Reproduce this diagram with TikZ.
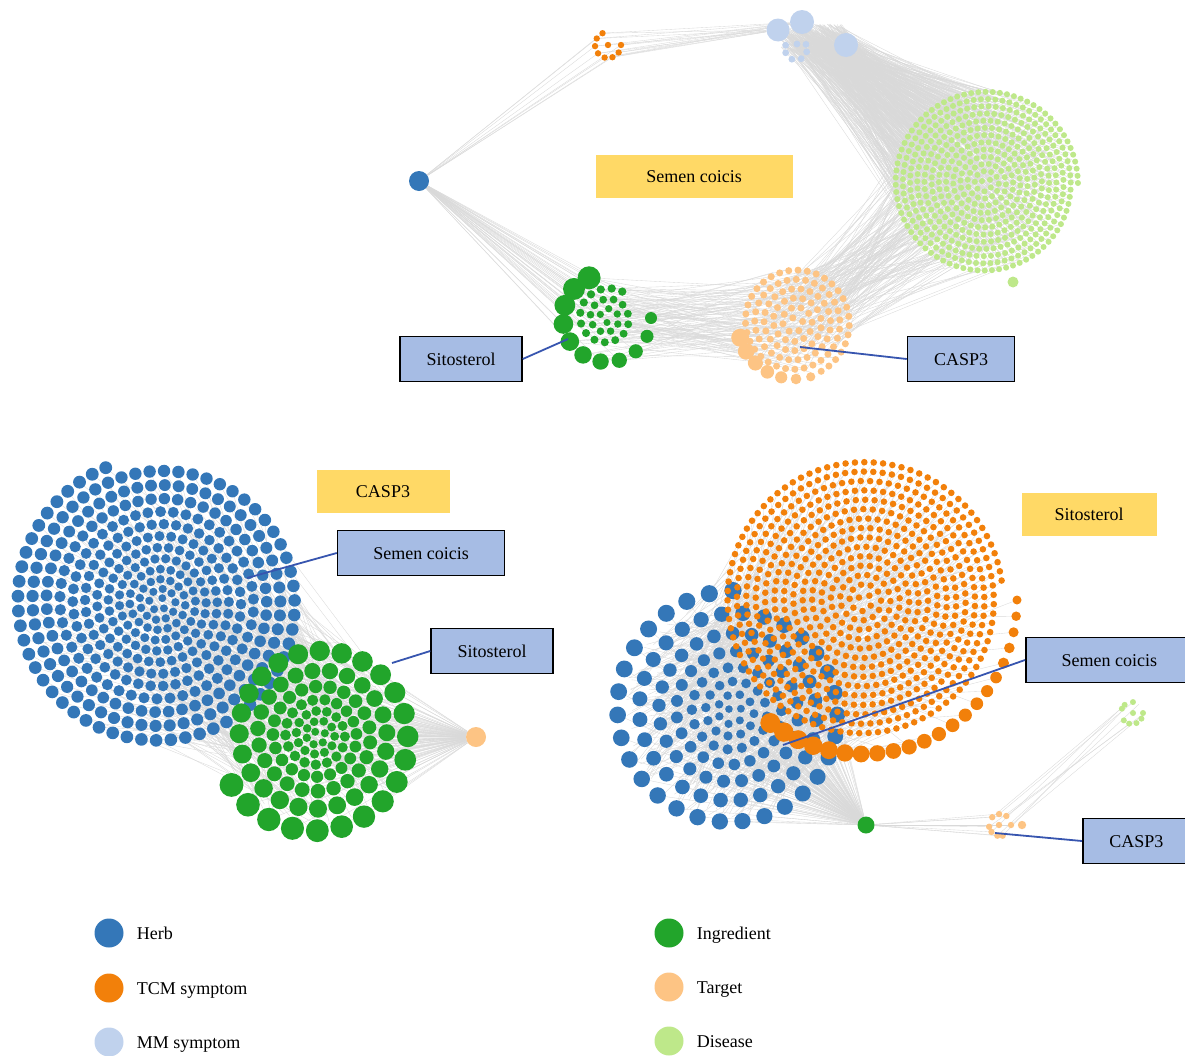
\documentclass[tikz,border=0pt]{standalone}
\usepackage{fontspec}
\setmainfont{Liberation Serif}
\usepackage{xcolor}
\definecolor{HerbBlue}{RGB}{52,119,184}
\definecolor{TcmOrange}{RGB}{242,128,10}
\definecolor{MmBlue}{RGB}{192,210,237}
\definecolor{IngGreen}{RGB}{34,165,43}
\definecolor{TargetOrange}{RGB}{253,196,132}
\definecolor{DiseaseGreen}{RGB}{190,232,138}
\definecolor{TagYellow}{RGB}{255,217,102}
\definecolor{TagBlue}{RGB}{166,188,228}
\definecolor{PinBlue}{RGB}{55,85,175}
\usepackage{tikz}
\usetikzlibrary{positioning}

\pgfdeclarelayer{links}
\pgfsetlayers{links,main}

% Recorrido de la espiral / Spiral walk
% #1,#2 centre, #3 radius, #4,#5 spacing in/out, #6 max, #7 code per node
\def\spGrow{1}
\def\spDir{1}
\def\spOff{0}
\def\spLinks{}
\newcommand{\spWalk}[7]{%
  \pgfmathsetmacro\spR{0.5*#4}\xdef\spR{\spR}\xdef\spA{0}%
  \foreach \k in {1,...,#6}{%
    \ifdim\spR pt<#3pt
      \pgfmathsetmacro\spD{#4+(#5-#4)*(\spR/#3)^\spGrow}%
      \pgfmathsetmacro\spX{#1+\spR*cos(\spOff+(\spDir)*\spA)}%
      \pgfmathsetmacro\spY{#2+\spR*sin(\spOff+(\spDir)*\spA)}%
      #7%
      \pgfmathsetmacro\spAn{\spA+\spD/\spR*57.2958}%
      \pgfmathsetmacro\spRn{\spR+\spD*\spD/(6.2832*\spR)}%
      \xdef\spA{\spAn}\xdef\spR{\spRn}%
    \fi}%
}
% Espiral de nodos / Node spiral
% #6 end angle, #7 size, #8 colour, #9 max
\newcommand{\netspiral}[9]{%
  \def\spOff{0}\xdef\spEnd{0}%
  \spWalk{#1}{#2}{#3}{#4}{#5}{#9}{\xdef\spEnd{\spA}}%
  \pgfmathsetmacro\spOff{#6-(\spDir)*\spEnd}%
  \begin{pgfonlayer}{links}%
    \spWalk{#1}{#2}{#3}{#4}{#5}{#9}{\spLinks}%
  \end{pgfonlayer}%
  \spWalk{#1}{#2}{#3}{#4}{#5}{#9}{\fill[#8] (\spX,\spY) circle ({#7*\spD});}%
}
% Arco de nodos / Node arc
\newcommand{\netarc}[9]{%
  \begin{pgfonlayer}{links}%
  \foreach \k in {0,...,#6}{%
    \pgfmathsetmacro\spX{#1+#3*cos(#4+(#5-(#4))*\k/#6)}%
    \pgfmathsetmacro\spY{#2+#3*sin(#4+(#5-(#4))*\k/#6)}%
    \spLinks}%
  \end{pgfonlayer}%
  \foreach \k in {0,...,#6}{%
    \pgfmathsetmacro\spT{\k/#6}%
    \pgfmathsetmacro\spX{#1+#3*cos(#4+(#5-(#4))*\spT)}%
    \pgfmathsetmacro\spY{#2+#3*sin(#4+(#5-(#4))*\spT)}%
    \fill[#9] (\spX,\spY) circle ({#7+(#8-#7)*\spT});}%
}

\begin{document}
\begin{tikzpicture}[x=1pt, y=-1pt,
  netnode/.style={circle, inner sep=0pt, minimum size=#1},
  netlink/.style={draw=gray!30, line width=0.35pt},
  tagy/.style={fill=TagYellow, minimum height=43pt, inner sep=0pt, text height=12pt, text depth=0pt, font=\fontsize{18}{21}\selectfont},
  tagb/.style={fill=TagBlue, draw=black, line width=1.5pt, minimum height=45pt, inner sep=0pt, text height=12pt, text depth=0pt, font=\fontsize{18}{21}\selectfont},
  pinline/.style={draw=PinBlue, line width=1.8pt},
  legtext/.style={inner sep=0pt, text height=12pt, text depth=0pt, font=\fontsize{18}{21}\selectfont}]
\useasboundingbox (0,0) rectangle (1185,1055);
\clip (0,0) rectangle (1185,1055);
\pgfmathsetseed{11}

% ---------- Semen coicis ----------
\node[netnode=20pt, fill=HerbBlue] (herbA) at (419,181) {};
\node[netnode=23pt, fill=MmBlue] (mmA1) at (778,30) {};
\node[netnode=24pt, fill=MmBlue] (mmA2) at (802,22) {};
\node[netnode=24pt, fill=MmBlue] (mmA3) at (846,45) {};
% Sintomas MTC / TCM symptoms
\begin{pgfonlayer}{links}
\foreach \a in {0,35,...,245}{
  \pgfmathsetmacro\spX{608+13*cos(\a)}
  \pgfmathsetmacro\spY{45+13*sin(\a)}
  \draw[netlink] (herbA) -- (\spX,\spY);
  \draw[netlink] (\spX,\spY) -- (mmA1);
  \draw[netlink] (\spX,\spY) -- (mmA2);
}
\end{pgfonlayer}
\foreach \a in {0,35,...,245}
  \fill[TcmOrange] ({608+13*cos(\a)},{45+13*sin(\a)}) circle (3.2);
\fill[TcmOrange] (608,45) circle (3.2);
% Sintomas MM / MM symptoms
\foreach \a in {200,160,112,62,15,-25}
  \fill[MmBlue] ({796+11*cos(\a)},{49+11*sin(\a)}) circle (3.4);
\fill[MmBlue] (797,44) circle (3.4);
% Enfermedades / Diseases
\def\spLinks{\pgfmathsetmacro\eX{780+64*rnd}\pgfmathsetmacro\eY{24+26*rnd}%
  \draw[netlink] (\eX,\eY) -- (\spX,\spY);%
  \pgfmathtruncatemacro\eP{rnd<0.3 ? 1 : 0}%
  \ifnum\eP=1 \pgfmathsetmacro\eA{360*rnd}\pgfmathsetmacro\eR{50*sqrt(rnd)}%
    \draw[netlink] ({795+\eR*cos(\eA)},{322+\eR*sin(\eA)}) -- (\spX,\spY);\fi}
\netspiral{985}{183}{93}{7.2}{7.2}{0}{0.42}{DiseaseGreen}{700}
\fill[DiseaseGreen] (1013,282) circle (5.5);
% Dianas / Targets
\def\spLinks{}
\netspiral{795}{322}{56}{9.3}{9.3}{62}{0.38}{TargetOrange}{200}
\netarc{795}{322}{57}{74}{164}{6}{4.6}{9}{TargetOrange}
% Ingredientes / Ingredients
\def\spLinks{\draw[netlink] (herbA) -- (\spX,\spY);%
  \foreach \j in {1,2,3}{\pgfmathsetmacro\eA{360*rnd}\pgfmathsetmacro\eR{55*sqrt(rnd)}%
    \draw[netlink] (\spX,\spY) -- ({795+\eR*cos(\eA)},{322+\eR*sin(\eA)});}}
\netspiral{607}{318}{31}{9}{11}{300}{0.38}{IngGreen}{80}
\netarc{607}{318}{44}{0}{246}{10}{6}{11.5}{IngGreen}
% Etiquetas / Labels
\node[tagy, minimum width=197pt] (herbTagA) at (694,176) {Semen coicis};
\node[tagb, minimum width=122pt] (ingTagA) at (461,359) {Sitosterol};
\coordinate (ingPinA) at (568,339);
\draw[pinline] (ingTagA.east) -- (ingPinA);
\node[tagb, minimum width=107pt] (tarTagA) at (961,359) {CASP3};
\coordinate (tarPinA) at (800,347);
\draw[pinline] (tarTagA.west) -- (tarPinA);

% ---------- CASP3 ----------
\node[netnode=20pt, fill=TargetOrange] (tarB) at (476,737) {};
% Hierbas / Herbs
\def\spLinks{\pgfmathsetmacro\eA{360*rnd}\pgfmathsetmacro\eR{95*sqrt(rnd)}%
  \draw[netlink] (\spX,\spY) -- ({318+\eR*cos(\eA)},{735+\eR*sin(\eA)});}
\netspiral{160}{602}{145}{9}{15}{248}{0.43}{HerbBlue}{700}
% Ingredientes / Ingredients
\def\spGrow{1.5}
\def\spLinks{\draw[netlink] (\spX,\spY) -- (tarB);}
\netspiral{318}{735}{100}{8.5}{26}{150}{0.46}{IngGreen}{400}
\def\spGrow{1}
% Etiquetas / Labels
\node[tagy, minimum width=133pt] (tarTagB) at (383,491) {CASP3};
\node[tagb, minimum width=167pt] (herbTagB) at (421,553) {Semen coicis};
\coordinate (herbPinB) at (247,578);
\draw[pinline] (herbTagB.west) -- (herbPinB);
\node[tagb, minimum width=122pt] (ingTagB) at (492,651) {Sitosterol};
\coordinate (ingPinB) at (392,663);
\draw[pinline] (ingTagB.west) -- (ingPinB);

% ---------- Sitosterol ----------
\node[netnode=17pt, fill=IngGreen] (ingC) at (866,825) {};
% Hierbas / Herbs
\def\spLinks{\draw[netlink] (\spX,\spY) -- (ingC);}
\netspiral{733}{712}{122}{10}{24}{270}{0.36}{HerbBlue}{500}
% Sintomas MTC / TCM symptoms
\def\spLinks{\pgfmathsetmacro\eA{360*rnd}\pgfmathsetmacro\eR{110*sqrt(rnd)}%
  \draw[netlink] (\spX,\spY) -- ({733+\eR*cos(\eA)},{712+\eR*sin(\eA)});}
\netspiral{863}{600}{140}{9.4}{9.4}{352}{0.35}{TcmOrange}{900}
\netarc{863}{600}{154}{0}{127}{21}{4.5}{10}{TcmOrange}
\def\spLinks{}
% Dianas y enfermedades / Targets and diseases
\begin{pgfonlayer}{links}
\foreach \a in {0,76,104,141,171,225,265,305}{
  \pgfmathsetmacro\spX{1000+11*cos(\a)}
  \pgfmathsetmacro\spY{825+11*sin(\a)}
  \pgfmathsetmacro\eA{360*rnd}
  \draw[netlink] (ingC) -- (\spX,\spY);
  \draw[netlink] (\spX,\spY) -- ({1132+11*cos(\eA)},{713+11*sin(\eA)});
}
\end{pgfonlayer}
\foreach \a in {0,76,104,141,171,225,265,305}
  \fill[TargetOrange] ({1000+11*cos(\a)},{825+11*sin(\a)}) circle (3.2);
\fill[TargetOrange] (999,825) circle (3.2);
\fill[TargetOrange] (1022,825) circle (4.2);
\foreach \a in {0,31,66,105,138,203,228,275}
  \fill[DiseaseGreen] ({1132+11*cos(\a)},{713+11*sin(\a)}) circle (3);
\fill[DiseaseGreen] (1133,713) circle (3);
% Etiquetas / Labels
\node[tagy, minimum width=135pt] (ingTagC) at (1089,514) {Sitosterol};
\node[tagb, minimum width=167pt, anchor=west] (herbTagC) at (1025,660) {Semen coicis};
\coordinate (herbPinC) at (783,745);
\draw[pinline] (herbTagC.west) -- (herbPinC);
\node[tagb, minimum width=107pt, anchor=west] (tarTagC) at (1082,841) {CASP3};
\coordinate (tarPinC) at (995,833);
\draw[pinline] (tarTagC.west) -- (tarPinC);

% ---------- Leyenda / Legend ----------
\node[netnode=29pt, fill=HerbBlue] (legHerb) at (109,933) {};
\node[legtext, right=13pt of legHerb] (legHerbText) {Herb};
\node[netnode=29pt, fill=TcmOrange] (legTcm) at (109,988) {};
\node[legtext, right=13pt of legTcm] (legTcmText) {TCM symptom};
\node[netnode=29pt, fill=MmBlue] (legMm) at (109,1042) {};
\node[legtext, right=13pt of legMm] (legMmText) {MM symptom};
\node[netnode=29pt, fill=IngGreen] (legIng) at (669,933) {};
\node[legtext, right=13pt of legIng] (legIngText) {Ingredient};
\node[netnode=29pt, fill=TargetOrange] (legTar) at (669,987) {};
\node[legtext, right=13pt of legTar] (legTarText) {Target};
\node[netnode=29pt, fill=DiseaseGreen] (legDis) at (669,1041) {};
\node[legtext, right=13pt of legDis] (legDisText) {Disease};
\end{tikzpicture}
\end{document}
